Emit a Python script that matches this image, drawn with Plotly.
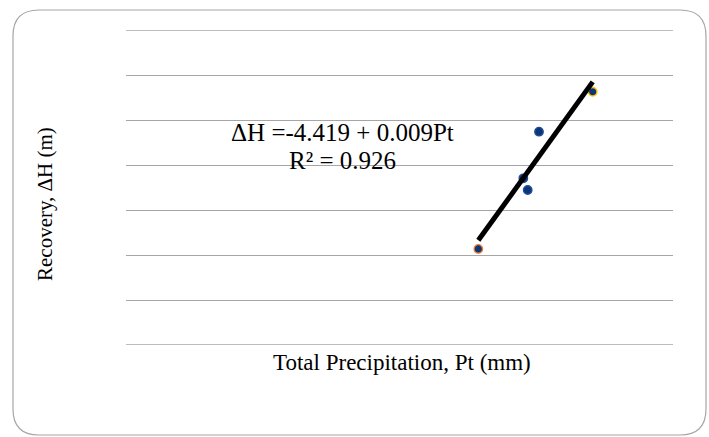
import plotly.graph_objects as go

# Data
precip_mm = [620.3, 697.2, 704.7, 724.0, 815.8]
recovery_m = [1.067, 1.852, 1.722, 2.370, 2.814]
marker_outline = ["#ed7d31", "#1f4e99", "#1f4e99", "#1f4e99", "#ffc000"]

intercept = -4.419
slope = 0.009
r2 = 0.926

y_min, y_max, y_step = 0.0, 3.5, 0.5

fit_x = [min(precip_mm), max(precip_mm)]
fit_y = [intercept + slope * x for x in fit_x]

W, H = 709, 437
L, R, T, B = 126, 36, 30, 92
pw, ph = W - L - R, H - T - B

def px(x):
    return (x - L) / pw

def py(y):
    return (H - B - y) / ph

fig = go.Figure()
fig.add_trace(go.Scatter(
    x=precip_mm, y=recovery_m, mode="markers",
    marker=dict(size=8.5, color="#0b3677", line=dict(color=marker_outline, width=1.3)),
    showlegend=False, hoverinfo="skip"))
fig.add_trace(go.Scatter(
    x=fit_x, y=fit_y, mode="lines",
    line=dict(color="black", width=5),
    showlegend=False, hoverinfo="skip"))

# edge gridlines (plotly omits grid lines at the range ends)
for yv in (y_min, y_max):
    fig.add_shape(type="line", xref="paper", yref="y", x0=0, x1=1, y0=yv, y1=yv,
                  line=dict(color="#a6a6a6", width=1.3), layer="below")

# rounded border
x0, x1, y0, y1, r = 13, 706, 10, 435, 26
path = (f"M {px(x0+r)},{py(y0)} L {px(x1-r)},{py(y0)} "
        f"Q {px(x1)},{py(y0)} {px(x1)},{py(y0+r)} "
        f"L {px(x1)},{py(y1-r)} Q {px(x1)},{py(y1)} {px(x1-r)},{py(y1)} "
        f"L {px(x0+r)},{py(y1)} Q {px(x0)},{py(y1)} {px(x0)},{py(y1-r)} "
        f"L {px(x0)},{py(y0+r)} Q {px(x0)},{py(y0)} {px(x0+r)},{py(y0)} Z")
fig.add_shape(type="path", path=path, xref="paper", yref="paper",
              line=dict(color="#a6a6a6", width=1.2), layer="below")

serif = "Liberation Serif, Times New Roman, serif"
fig.add_annotation(x=px(342), y=py(132), xref="paper", yref="paper",
                   text=f"ΔH ={intercept} + {slope}Pt", showarrow=False,
                   font=dict(family=serif, size=25, color="black"),
                   xanchor="center", yanchor="middle")
fig.add_annotation(x=px(342), y=py(160), xref="paper", yref="paper",
                   text=f"R² = {r2}", showarrow=False,
                   font=dict(family=serif, size=25, color="black"),
                   xanchor="center", yanchor="middle")
fig.add_annotation(x=px(402), y=py(362), xref="paper", yref="paper",
                   text="Total Precipitation, Pt (mm)", showarrow=False,
                   font=dict(family=serif, size=23, color="black"),
                   xanchor="center", yanchor="middle")
fig.add_annotation(x=px(45), y=py(204), xref="paper", yref="paper",
                   text="Recovery, ΔH (m)", showarrow=False, textangle=-90,
                   font=dict(family=serif, size=21, color="black"),
                   xanchor="center", yanchor="middle")

fig.update_layout(
    width=W, height=H,
    margin=dict(l=L, r=R, t=T, b=B),
    paper_bgcolor="white", plot_bgcolor="white",
    xaxis=dict(range=[18.2, 953], showgrid=False, zeroline=False,
               showticklabels=False, showline=False, ticks=""),
    yaxis=dict(range=[y_min, y_max], dtick=y_step, showgrid=True, gridcolor="#a6a6a6",
               gridwidth=1.3, zeroline=False, showticklabels=False,
               showline=False, ticks=""),
)
fig.write_html("out.html", config={"displayModeBar": False},
               post_script="document.body.style.margin='0';")
